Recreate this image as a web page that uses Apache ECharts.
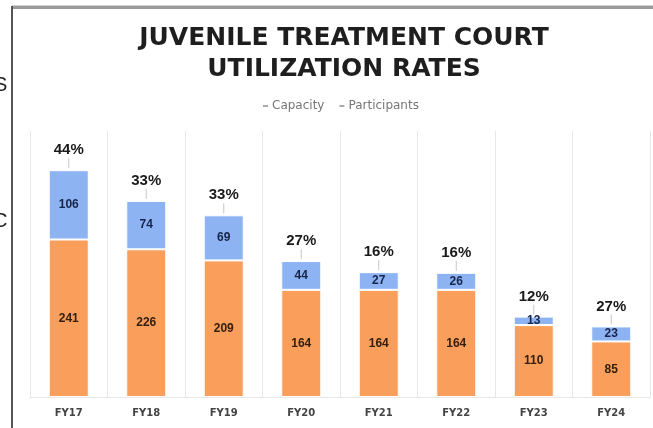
<!DOCTYPE html>
<html>
<head>
<meta charset="utf-8">
<script src="https://cdn.jsdelivr.net/npm/echarts@6/dist/echarts.min.js"></script>
<style>html,body{margin:0;padding:0;background:#fff;}#c{width:653px;height:428px;}</style>
</head>
<body>
<div id="c"></div>
<script>
const categories = ['FY17','FY18','FY19','FY20','FY21','FY22','FY23','FY24'];
const capacity = [241, 226, 209, 164, 164, 164, 110, 85];
const participants = [106, 74, 69, 44, 27, 26, 13, 23];
const percents = [44, 33, 33, 27, 16, 16, 12, 27];

const chart = echarts.init(document.getElementById('c'), null, {renderer: 'canvas'});
const pctData = categories.map((c, i) => [i, capacity[i] + participants[i], percents[i]]);

chart.setOption({
  backgroundColor: '#ffffff',
  animation: false,
  title: {
    text: 'JUVENILE TREATMENT COURT\nUTILIZATION RATES',
    left: 339, top: 18, textAlign: 'center',
    textStyle: {fontFamily: 'DejaVu Sans', fontWeight: 'bold', fontSize: 25, lineHeight: 31, color: '#1e1e1e'}
  },
  legend: {
    data: ['Capacity', 'Participants'],
    left: 258, top: 95,
    icon: 'rect', itemWidth: 5, itemHeight: 2, itemGap: 15,
    itemStyle: {color: '#aaa', borderWidth: 0},
    textStyle: {fontFamily: 'DejaVu Sans', fontSize: 12, color: '#777', padding: [0,0,0,-1]}
  },
  grid: {left: 30, right: 3, top: 131, bottom: 31},
  xAxis: {
    type: 'category', data: categories,
    axisLine: {show: true, lineStyle: {color: '#e6e6e6'}},
    axisTick: {show: false},
    splitLine: {show: true, lineStyle: {color: '#e6e6e6', width: 1}},
    axisLabel: {fontFamily: 'DejaVu Sans', fontWeight: 'bold', fontSize: 10, color: '#444', margin: 11}
  },
  yAxis: {type: 'value', min: 0, max: 407, show: false, splitLine: {show: false}},
  series: [
    {
      name: 'Capacity', type: 'bar', stack: 'a', data: capacity, barWidth: 40,
      itemStyle: {color: '#FA9E5B', borderColor: '#fff', borderWidth: 1},
      label: {show: true, position: 'inside', fontFamily: 'Liberation Sans', fontWeight: 'bold', fontSize: 12, color: '#33200e'}
    },
    {
      name: 'Participants', type: 'bar', stack: 'a', data: participants, barWidth: 40,
      itemStyle: {color: '#8DB3F2', borderColor: '#fff', borderWidth: 1},
      label: {show: true, position: 'inside', fontFamily: 'Liberation Sans', fontWeight: 'bold', fontSize: 12, color: '#16244a'}
    },
    {
      name: 'pct', type: 'custom', data: pctData, z: 10,
      renderItem: function (params, api) {
        const p = api.coord([api.value(0), api.value(1)]);
        return {
          type: 'group',
          children: [
            {type: 'line', shape: {x1: p[0], y1: p[1] - 2, x2: p[0], y2: p[1] - 12}, style: {stroke: '#c8c8c8', lineWidth: 1}},
            {type: 'text', x: p[0], y: p[1] - 20, style: {text: api.value(2) + '%', font: 'bold 15px "Liberation Sans"', fill: '#1a1a1a', align: 'center', verticalAlign: 'middle'}}
          ]
        };
      }
    }
  ],
  graphic: [
    {type: 'rect', shape: {x: 12, y: 6, width: 641, height: 3}, style: {fill: '#9a9a9a'}, silent: true},
    {type: 'rect', shape: {x: 12, y: 5, width: 641, height: 1}, style: {fill: '#d0d0d0'}, silent: true},
    {type: 'rect', shape: {x: 11, y: 6, width: 2, height: 422}, style: {fill: '#555'}, silent: true},
    {type: 'text', x: -6, y: 85, style: {text: 'S', font: '20px "Liberation Sans"', fill: '#222', verticalAlign: 'middle'}, silent: true},
    {type: 'text', x: -7, y: 221, style: {text: 'C', font: '20px "Liberation Sans"', fill: '#222', verticalAlign: 'middle'}, silent: true}
  ]
});
</script>
</body>
</html>
